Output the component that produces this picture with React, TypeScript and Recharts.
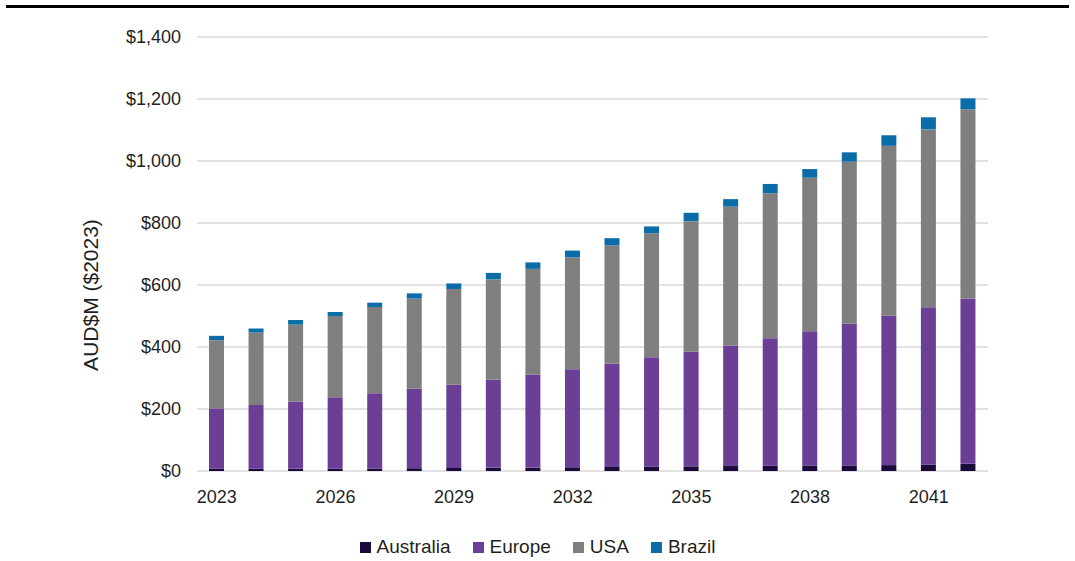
import React from 'react';
import { BarChart, Bar, XAxis, YAxis, CartesianGrid, Legend } from 'recharts';

// Market value by region, AUD$M in 2023 dollars
const years = [
  '2023', '2024', '2025', '2026', '2027', '2028', '2029', '2030', '2031', '2032',
  '2033', '2034', '2035', '2036', '2037', '2038', '2039', '2040', '2041', '2042',
];
const australia = [7, 7, 7, 8, 8, 9, 10, 11, 11, 12, 13, 14, 15, 16, 17, 17, 18, 19, 21, 23];
const europe = [195, 206, 217, 230, 243, 256, 268, 283, 300, 316, 334, 353, 370, 389, 411, 434, 457, 482, 507, 533];
const usa = [220, 234, 248, 262, 278, 291, 309, 324, 341, 361, 381, 400, 421, 448, 468, 495, 523, 548, 574, 611];
const brazil = [14, 13, 15, 13, 14, 17, 18, 21, 21, 22, 23, 22, 27, 24, 30, 28, 30, 34, 39, 35];

const yTicks = [0, 200, 400, 600, 800, 1000, 1200, 1400];

const series = [
  { key: 'Australia', color: '#1b0b3d' },
  { key: 'Europe', color: '#6c3f97' },
  { key: 'USA', color: '#7f7f7f' },
  { key: 'Brazil', color: '#0a6da7' },
];

const data = years.map((year, i) => ({
  year,
  Australia: australia[i],
  Europe: europe[i],
  USA: usa[i],
  Brazil: brazil[i],
}));

const FONT = '"Liberation Sans", Arial, sans-serif';
const TEXT = '#1f1f1f';

const formatDollars = (v: number) => `$${v.toLocaleString('en-US')}`;

const LegendContent = () => (
  <div
    style={{
      display: 'flex',
      justifyContent: 'center',
      alignItems: 'center',
      fontFamily: FONT,
      fontSize: 19,
      color: TEXT,
      gap: 22,
    }}
  >
    {series.map((s) => (
      <div key={s.key} style={{ display: 'flex', alignItems: 'center' }}>
        <span
          style={{ width: 11, height: 11, background: s.color, display: 'inline-block', marginRight: 6 }}
        />
        <span>{s.key}</span>
      </div>
    ))}
  </div>
);

const AxisTitle = () => (
  <text
    x={90}
    y={295}
    transform="rotate(-90 90 295)"
    textAnchor="middle"
    dominantBaseline="central"
    fontFamily={FONT}
    fontSize={21}
    fill={TEXT}
  >
    AUD$M ($2023)
  </text>
);

export default function App() {
  return (
    <div style={{ position: 'absolute', left: 0, top: 0, width: 1075, height: 561, background: '#fff' }}>
      <div style={{ position: 'absolute', left: 6, top: 5, width: 1063, height: 3, background: '#000' }} />
      <BarChart
        width={1075}
        height={561}
        data={data}
        margin={{ top: 37, right: 87, left: 0, bottom: 50 }}
        barSize={15}
      >
        <CartesianGrid vertical={false} stroke="#d9d9d9" strokeWidth={1.3} />
        <XAxis
          dataKey="year"
          interval={2}
          axisLine={false}
          tickLine={false}
          tickSize={0}
          tickMargin={19}
          height={40}
          tick={{ fontFamily: FONT, fontSize: 18, fill: TEXT }}
        />
        <YAxis
          width={197}
          domain={[0, 1400]}
          ticks={yTicks}
          tickFormatter={formatDollars}
          axisLine={false}
          tickLine={false}
          tickSize={0}
          tickMargin={16}
          tick={{ fontFamily: FONT, fontSize: 18, fill: TEXT }}
          label={{ content: () => <AxisTitle /> }}
        />
        {series.map((s) => (
          <Bar key={s.key} dataKey={s.key} stackId="total" fill={s.color} isAnimationActive={false} />
        ))}
        <Legend
          layout="horizontal"
          verticalAlign="middle"
          align="center"
          wrapperStyle={{ left: 0, width: 1075, top: 536 }}
          content={() => <LegendContent />}
        />
      </BarChart>
    </div>
  );
}
